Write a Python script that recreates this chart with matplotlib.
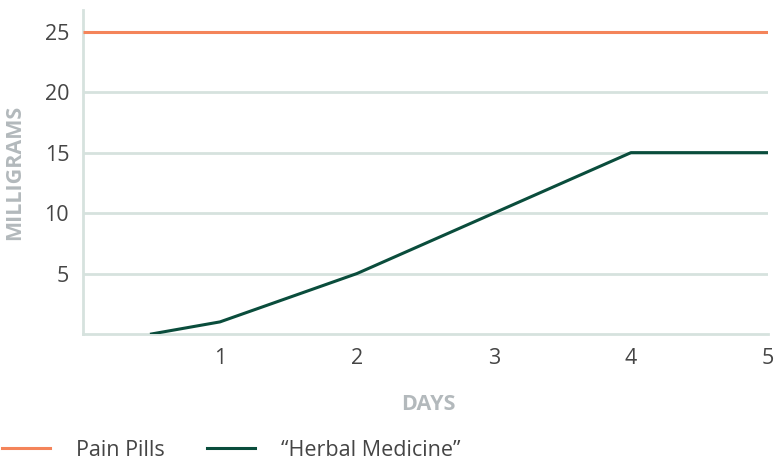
import matplotlib
matplotlib.use('Agg')
import matplotlib.pyplot as plt
from matplotlib.lines import Line2D

plt.rcParams['font.family'] = ['Open Sans', 'DejaVu Sans']

# dosage over time
days = [0.5, 1, 2, 3, 4, 5]
herbal = [0, 1, 5, 10, 15, 15]
pill_days = [0, 5]
pills = [25, 25]

x_ticks = [1, 2, 3, 4, 5]
y_ticks = [5, 10, 15, 20, 25]

orange = '#f4845a'
green = '#0a4d3c'
grid_col = '#d6e2de'
text_col = '#454545'
label_col = '#b3b9bc'

fig = plt.figure(figsize=(7.77, 4.62), dpi=100)
ax = fig.add_axes([0.1068, 0.2771, 0.8816, 0.7013])

for y in y_ticks:
    ax.axhline(y, color=grid_col, lw=2, zorder=1)

ax.plot(pill_days, pills, color=orange, lw=2.2, zorder=3, solid_capstyle='butt')
ax.plot(days, herbal, color=green, lw=2.2, zorder=3)

ax.set_xlim(0, 5)
ax.set_ylim(0, 26.8)
ax.set_xticks(x_ticks)
ax.set_yticks(y_ticks)
ax.tick_params(length=0, labelsize=15.5, colors=text_col, pad=10)
ax.tick_params(axis='x', pad=10)

for s in ['top', 'right']:
    ax.spines[s].set_visible(False)
for s in ['left', 'bottom']:
    ax.spines[s].set_color(grid_col)
    ax.spines[s].set_linewidth(2)

fig.text(428 / 777, 1 - 404 / 462, 'DAYS', fontsize=15.5, fontweight='bold',
         color=label_col, ha='center', va='center')
fig.text(15 / 777, 1 - 172 / 462, 'MILLIGRAMS', fontsize=15.5, fontweight='bold',
         color=label_col, ha='center', va='center', rotation=90)

handles = [Line2D([], [], color=orange, lw=2.2),
           Line2D([], [], color=green, lw=2.2)]
fig.legend(handles, ['Pain Pills', '\u201cHerbal Medicine\u201d'], loc='center left',
           bbox_to_anchor=(0.003, 1 - 450 / 462), ncol=2, frameon=False, fontsize=15.5,
           labelcolor=text_col, handlelength=2.2, handletextpad=1.2, columnspacing=2.0,
           borderpad=0, borderaxespad=0)

fig.savefig('out.png', dpi=100)
